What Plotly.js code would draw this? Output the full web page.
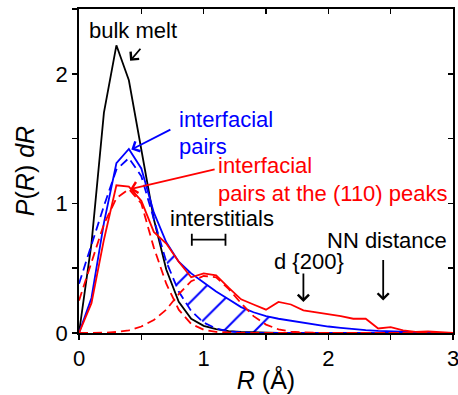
<!DOCTYPE html>
<html>
<head>
<meta charset="utf-8">
<script src="https://cdn.plot.ly/plotly-3.0.1.min.js"></script>
<style>html,body{margin:0;padding:0;background:#fff;}#chart{width:458px;height:395px;}</style>
</head>
<body>
<div id="chart"></div>
<script>
// R grid (Å)
const R = [0,0.1,0.2,0.3,0.4,0.5,0.6,0.7,0.8,0.9,1.0,1.1,1.2,1.3,1.4,1.5,1.6,1.7,1.8,1.9,2.0,2.1,2.2,2.3,2.4,2.5,2.6,2.7,2.8,2.9,3.0];
// bulk melt
const bulkMelt = [0,0.69,1.70,2.22,1.95,1.40,0.88,0.49,0.24,0.11,0.055,0.03,0.015,0.008,0.004,0.002,0,0,0,0,0,0,0,0,0,0,0,0,0,0,0];
// interfacial pairs (solid) and its first-peak fit (dashed)
const interfacial = [0,0.27,0.85,1.31,1.42,1.27,0.93,0.70,0.55,0.46,0.39,0.32,0.26,0.20,0.16,0.13,0.11,0.095,0.078,0.063,0.05,0.04,0.03,0.022,0.016,0.012,0.008,0.005,0.003,0.001,0];
const interfacialFit = [0.38,0.68,0.98,1.26,1.35,1.21,0.87,0.55,0.32,0.17,0.08,0.035,0.012,0.004,0.001,0,0,0,0,0,0,0,0,0,0,0,0,0,0,0,0];
// interfacial pairs at the (110) peaks (solid) and its two fitted peaks (dashed)
const peaks110 = [0,0.23,0.72,1.14,1.13,1.02,0.78,0.69,0.55,0.43,0.46,0.445,0.35,0.26,0.22,0.18,0.24,0.22,0.175,0.16,0.15,0.13,0.11,0.11,0.035,0.045,0.02,0.008,0.013,0.006,0];
const peaks110Fit1 = [0.25,0.55,0.84,1.04,1.11,1.00,0.66,0.38,0.18,0.07,0.025,0.008,0.002,0,0,0,0,0,0,0,0,0,0,0,0,0,0,0,0,0,0];
const peaks110Fit2 = [0,0,0.002,0.008,0.02,0.05,0.10,0.18,0.30,0.40,0.44,0.43,0.34,0.23,0.13,0.065,0.028,0.01,0.004,0.001,0,0,0,0,0,0,0,0,0,0,0];
// hatched (interstitial) region index range
const hatchFrom = 7, hatchTo = 16;
// interstitials range bar
const interstitialRange = [0.905, 1.175];
const interstitialLevel = 0.72;
// marked distances
const d200 = 1.80, nnDist = 2.44;

const xTicks = [0,0.5,1,1.5,2,2.5,3];
const xTickText = ['0','','1','','2','','3'];
const yTicks = [0,0.5,1,1.5,2,2.5];
const yTickText = ['0','','1','','2',''];

const BLUE = '#0000ff', RED = '#ff0000', BLACK = '#000000';
const DASH = '9px,5px';
const LW = 1.8;

const traces = [
  {x: R.slice(hatchFrom, hatchTo+1), y: interfacialFit.slice(hatchFrom, hatchTo+1), mode:'lines', line:{width:0}, hoverinfo:'skip', showlegend:false},
  {x: R.slice(hatchFrom, hatchTo+1), y: interfacial.slice(hatchFrom, hatchTo+1), mode:'lines', line:{width:0}, fill:'tonexty', fillcolor:'rgba(0,0,0,0)',
   fillpattern:{shape:'/', fgcolor:BLUE, bgcolor:'rgba(0,0,0,0)', size:22, solidity:0.09}, hoverinfo:'skip', showlegend:false},
  {x: R, y: bulkMelt, mode:'lines', line:{color:BLACK, width:LW}, name:'bulk melt'},
  {x: R, y: interfacialFit, mode:'lines', line:{color:BLUE, width:LW, dash:DASH}, name:'interfacial fit'},
  {x: R, y: interfacial, mode:'lines', line:{color:BLUE, width:LW}, name:'interfacial pairs'},
  {x: R, y: peaks110Fit1, mode:'lines', line:{color:RED, width:LW, dash:DASH}, name:'fit 1'},
  {x: R, y: peaks110Fit2, mode:'lines', line:{color:RED, width:LW, dash:DASH}, name:'fit 2'},
  {x: R, y: peaks110, mode:'lines', line:{color:RED, width:LW}, name:'(110) peaks'},
  {x: [(interstitialRange[0]+interstitialRange[1])/2], y: [interstitialLevel], mode:'markers', marker:{size:0.1, color:BLACK},
   error_x:{type:'data', array:[(interstitialRange[1]-interstitialRange[0])/2], color:BLACK, thickness:1.8, width:6}, showlegend:false},
  {x: [], y: [], xaxis:'x2', yaxis:'y2', showlegend:false}
];

const F = 'Liberation Sans, Arial, sans-serif';
function txt(text, x, y, color, xanchor){
  return {text, x, y, xref:'x', yref:'y', showarrow:false, font:{family:F, size:22, color}, xanchor: xanchor||'center', yanchor:'middle'};
}
function arrow(x0, y0, x1, y1, color){
  return {text:'', x:x1, y:y1, ax:x0, ay:y0, xref:'x', yref:'y', axref:'x', ayref:'y', showarrow:true,
          arrowhead:4, arrowsize:1.2, arrowwidth:1.8, arrowcolor:color, standoff:0, startstandoff:0};
}

const annotations = [
  txt('bulk melt', 0.43, 2.335, BLACK),
  arrow(0.503, 2.205, 0.41, 2.10, BLACK),
  txt('interfacial', 0.785, 1.65, BLUE, 'left'),
  txt('pairs', 0.785, 1.44, BLUE, 'left'),
  arrow(0.745, 1.575, 0.42, 1.415, BLUE),
  txt('interfacial', 1.10, 1.29, RED, 'left'),
  txt('pairs at the (110) peaks', 1.10, 1.08, RED, 'left'),
  arrow(1.10, 1.265, 0.41, 1.11, RED),
  txt('interstitials', 1.15, 0.88, BLACK),
  txt('d {200}', 1.845, 0.55, BLACK),
  arrow(d200, 0.47, d200, 0.24, BLACK),
  txt('NN distance', 2.47, 0.715, BLACK),
  arrow(nnDist, 0.575, nnDist, 0.25, BLACK)
];

const axisCommon = {showgrid:false, zeroline:false, showline:true, linecolor:BLACK, linewidth:1.8, tickcolor:BLACK, tickwidth:1.5, ticklen:5,
                    tickfont:{family:F, size:22, color:BLACK}, ticklabeloverflow:'allow'};

const layout = {
  width:458, height:395,
  margin:{l:79, r:5, t:9, b:62},
  paper_bgcolor:'#fff', plot_bgcolor:'#fff',
  showlegend:false,
  font:{family:F, color:BLACK},
  xaxis: Object.assign({}, axisCommon, {range:[0,3], tickmode:'array', tickvals:xTicks, ticktext:xTickText, ticks:'outside',
          title:{text:'<i>R</i> (Å)', font:{family:F, size:25, color:BLACK}, standoff:1}}),
  yaxis: Object.assign({}, axisCommon, {range:[0,2.5], tickmode:'array', tickvals:yTicks, ticktext:yTickText, ticks:'outside',
          title:{text:'<i>P</i>(<i>R</i>) <i>dR</i>', font:{family:F, size:25, color:BLACK}, standoff:14}}),
  xaxis2: Object.assign({}, axisCommon, {range:[0,3], overlaying:'x', side:'top', anchor:'y2', tickmode:'array', tickvals:xTicks, ticks:'inside', showticklabels:false}),
  yaxis2: Object.assign({}, axisCommon, {range:[0,2.5], overlaying:'y', side:'right', anchor:'x2', tickmode:'array', tickvals:yTicks, ticks:'inside', showticklabels:false}),
  annotations
};

Plotly.newPlot('chart', traces, layout, {displayModeBar:false, staticPlot:true});
</script>
</body>
</html>
